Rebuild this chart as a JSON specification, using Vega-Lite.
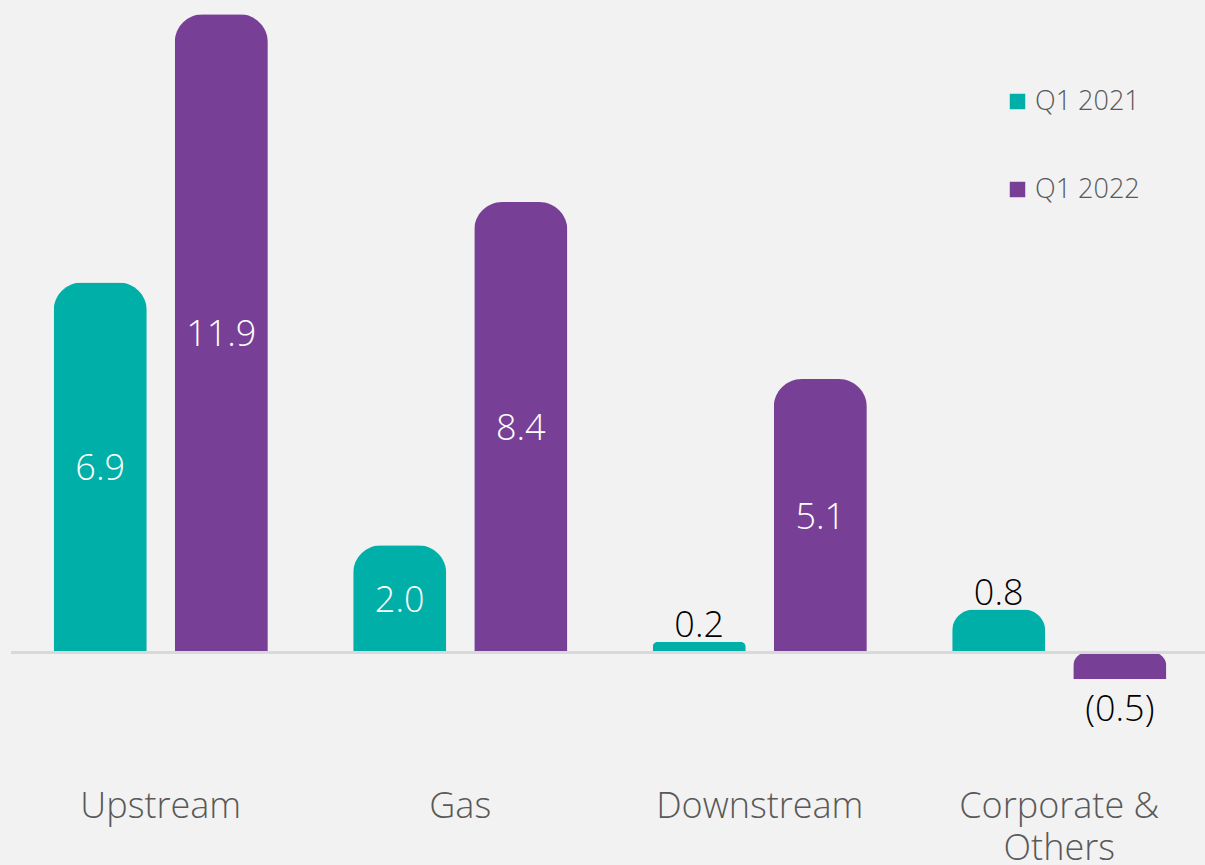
{
  "$schema": "https://vega.github.io/schema/vega-lite/v6.json",
  "autosize": "none",
  "width": 1198,
  "height": 858,
  "padding": {"left": 11, "top": 9, "right": 0, "bottom": 0},
  "background": "#f2f2f2",
  "config": {
    "view": {"stroke": null},
    "font": "Open Sans",
    "legend": {
      "orient": "none",
      "legendX": 993,
      "legendY": 79,
      "title": null,
      "symbolType": "square",
      "symbolSize": 240,
      "symbolStrokeWidth": 0,
      "labelFontSize": 27,
      "labelFont": "Open Sans",
      "labelFontWeight": 300,
      "labelColor": "#595959",
      "rowPadding": 60,
      "labelOffset": 4
    }
  },
  "data": {
    "values": [
      {"segment": "Upstream", "period": "Q1 2021", "value": 6.9},
      {"segment": "Upstream", "period": "Q1 2022", "value": 11.9},
      {"segment": "Gas", "period": "Q1 2021", "value": 2.0},
      {"segment": "Gas", "period": "Q1 2022", "value": 8.4},
      {"segment": "Downstream", "period": "Q1 2021", "value": 0.2},
      {"segment": "Downstream", "period": "Q1 2022", "value": 5.1},
      {"segment": "Corporate & Others", "period": "Q1 2021", "value": 0.8},
      {"segment": "Corporate & Others", "period": "Q1 2022", "value": -0.5}
    ]
  },
  "transform": [
    {"calculate": "datum.value < 0 ? '(' + format(-datum.value, '.1f') + ')' : format(datum.value, '.1f')", "as": "label"},
    {"calculate": "datum.value / 2", "as": "mid"}
  ],
  "encoding": {
    "x": {
      "field": "segment",
      "type": "nominal",
      "sort": ["Upstream", "Gas", "Downstream", "Corporate & Others"],
      "scale": {"paddingInner": 0.285, "paddingOuter": 0.1425},
      "axis": {
        "title": null,
        "orient": "bottom",
        "domain": false,
        "ticks": false,
        "labelAngle": 0,
        "labelFontSize": 36,
        "labelFont": "Open Sans",
        "labelFontWeight": 300,
        "labelColor": "#595959",
        "labelPadding": -78,
        "labelLineHeight": 42,
        "labelBaseline": "top",
        "labelLimit": 0,
        "labelExpr": "datum.label == 'Corporate & Others' ? ['Corporate &', 'Others'] : datum.label"
      }
    },
    "xOffset": {
      "field": "period",
      "type": "nominal",
      "scale": {"paddingInner": 0.2314, "paddingOuter": 0}
    }
  },
  "layer": [
    {
      "mark": {"type": "bar", "cornerRadiusEnd": 28},
      "encoding": {
        "y": {
          "field": "value",
          "type": "quantitative",
          "scale": {"domain": [-4, 12], "nice": false, "zero": false},
          "axis": null
        },
        "color": {
          "field": "period",
          "type": "nominal",
          "scale": {"domain": ["Q1 2021", "Q1 2022"], "range": ["#00b0a8", "#774096"]},
          "legend": {}
        }
      }
    },
    {
      "mark": {"type": "rule", "color": "#d9d9d9", "strokeWidth": 2.5},
      "encoding": {"y": {"datum": 0, "type": "quantitative"}, "x": null, "xOffset": null}
    },
    {
      "transform": [{"filter": "abs(datum.value) >= 1"}],
      "mark": {"type": "text", "color": "#ffffff", "fontSize": 36, "fontWeight": 300, "baseline": "middle", "dy": 2},
      "encoding": {
        "y": {"field": "mid", "type": "quantitative"},
        "text": {"field": "label"}
      }
    },
    {
      "transform": [{"filter": "datum.value > 0 && datum.value < 1"}],
      "mark": {"type": "text", "color": "#000000", "fontSize": 36, "fontWeight": 300, "baseline": "bottom", "dy": 3},
      "encoding": {
        "y": {"field": "value", "type": "quantitative"},
        "text": {"field": "label"}
      }
    },
    {
      "transform": [{"filter": "datum.value < 0"}],
      "mark": {"type": "text", "color": "#000000", "fontSize": 36, "fontWeight": 300, "baseline": "top", "dy": 14},
      "encoding": {
        "y": {"field": "value", "type": "quantitative"},
        "text": {"field": "label"}
      }
    }
  ]
}
